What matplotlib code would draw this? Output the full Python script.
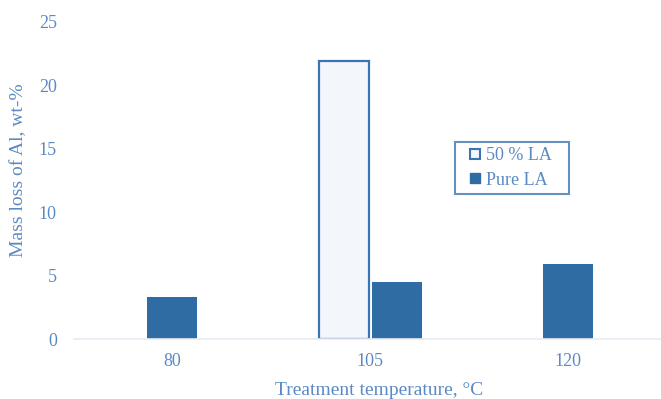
import matplotlib.pyplot as plt
from matplotlib.lines import Line2D
import numpy as np

categories = ['80', '105', '120']
half_la = [np.nan, 21.9, np.nan]
pure_la = [3.3, 4.5, 5.9]

txt = '#5b8ac2'
edge = '#3b74b2'
dark = '#2e6ca3'
plt.rcParams['font.family'] = ['Liberation Serif', 'DejaVu Serif']

fig = plt.figure(figsize=(6.61, 3.99), dpi=100)
# plot area runs a little past the right edge of the picture
ax_w = 593.5
ax = fig.add_axes([73.5 / 661, 1 - 339 / 399, ax_w / 661, 317 / 399])

x = np.arange(len(categories))
w = 0.253
# bars sit side by side only where both series exist, otherwise centred
pos_half = []
pos_pure = []
for i in range(len(categories)):
    if np.isnan(half_la[i]):
        pos_pure.append(x[i])
        pos_half.append(x[i])
    else:
        pos_half.append(x[i] - w / 2 - 0.007)
        pos_pure.append(x[i] + w / 2 + 0.007)

ax.bar(pos_half, half_la, width=w, color='#f3f6fa', edgecolor=edge, linewidth=1.6)
ax.bar(pos_pure, pure_la, width=w, color=dark)

ax.set_xlim(-0.5, 2.5)
ax.set_ylim(0, 25)
ax.set_yticks(range(0, 26, 5))
ax.set_xticks(x, categories)
ax.tick_params(length=0, colors=txt, labelsize=13, pad=10)
ax.tick_params(axis='y', pad=12)
for s in ['top', 'right', 'left']:
    ax.spines[s].set_visible(False)
ax.spines['bottom'].set_color('#e6ebf3')
ax.spines['bottom'].set_linewidth(1.2)

ax.set_xlabel('Treatment temperature, °C', color=txt, fontsize=14)
ax.xaxis.set_label_coords((379 - 73.5) / ax_w, -43 / 317)
ax.set_ylabel('Mass loss of Al, wt-%', color=txt, fontsize=14)
ax.yaxis.set_label_coords(-46 / ax_w, 0.531)

handles = [
    Line2D([], [], linestyle='none', marker='s', markersize=6.5,
           markerfacecolor='#f3f6fa', markeredgecolor=edge, markeredgewidth=1.5),
    Line2D([], [], linestyle='none', marker='s', markersize=6.5,
           markerfacecolor=dark, markeredgecolor=dark),
]
leg = ax.legend(handles, ['50 % LA   ', 'Pure LA   '], loc='upper left',
                bbox_to_anchor=((455 - 73.5) / ax_w, (339 - 142) / 317), borderaxespad=0,
                fontsize=13, labelcolor=txt, fancybox=False, frameon=True,
                handlelength=1.6, handletextpad=-0.2,
                borderpad=0.3, labelspacing=0.4)
leg.get_frame().set_edgecolor(edge)
leg.get_frame().set_linewidth(1.5)

fig.savefig('out.png', dpi=100)
